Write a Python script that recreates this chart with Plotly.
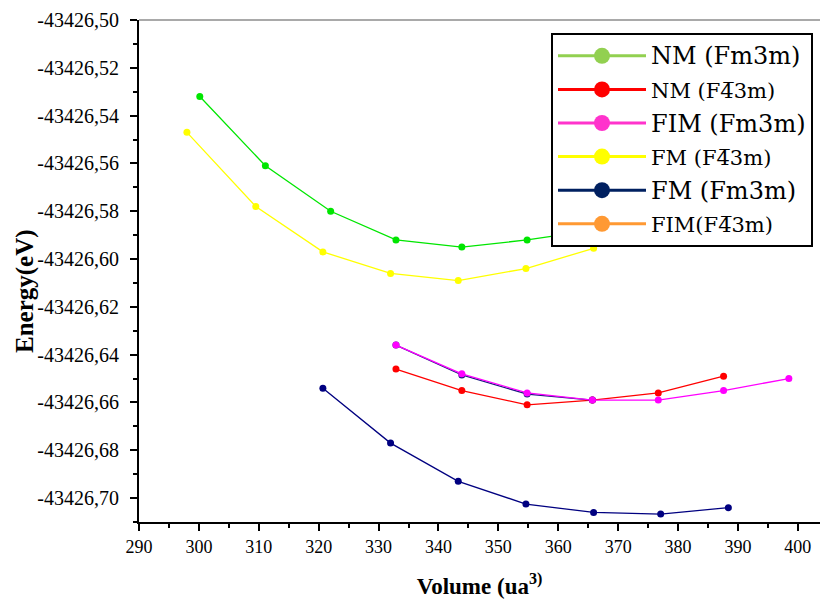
import plotly.graph_objects as go

# ---- data ----
nm_fm3m_x = [300.15, 311.1, 322.0, 332.9, 343.9, 354.8, 365.7]
nm_fm3m_y = [-43426.532, -43426.561, -43426.580, -43426.592, -43426.595, -43426.592, -43426.588]

fm_f43m_x = [298.0, 309.5, 320.7, 332.0, 343.3, 354.6, 365.9]
fm_f43m_y = [-43426.547, -43426.578, -43426.597, -43426.606, -43426.609, -43426.604, -43426.5955]

nm_f43m_x = [332.9, 343.9, 354.8, 365.7, 376.7, 387.6]
nm_f43m_y = [-43426.646, -43426.655, -43426.661, -43426.659, -43426.656, -43426.649]

fim_fm3m_x = [332.9, 343.9, 354.8, 365.7, 376.7, 387.6, 398.5]
fim_fm3m_y = [-43426.636, -43426.648, -43426.656, -43426.659, -43426.659, -43426.655, -43426.650]

# dark line partly hidden under the FIM (Fm3m) curve
under_x = [332.9, 343.9, 354.8, 365.7]
under_y = [-43426.636, -43426.6485, -43426.6565, -43426.659]

fm_fm3m_x = [320.7, 332.0, 343.3, 354.6, 365.9, 377.1, 388.4]
fm_fm3m_y = [-43426.654, -43426.677, -43426.693, -43426.7025, -43426.706, -43426.7067, -43426.704]

legend_names = ["NM (Fm3m)", "NM (F4\u03053m)", "FIM (Fm3m)", "FM (F4\u03053m)", "FM (Fm3m)", "FIM(F4\u03053m)"]
legend_sizes = [24, 21, 24, 21, 24, 21]
legend_colors = ["#92d050", "#ff0000", "#ff33cc", "#ffff00", "#002060", "#ff9933"]

y_ticks = [-43426.50, -43426.52, -43426.54, -43426.56, -43426.58, -43426.60,
           -43426.62, -43426.64, -43426.66, -43426.68, -43426.70]
y_ticktext = [f"{v:.2f}".replace(".", ",") for v in y_ticks]
x_ticks = list(range(290, 401, 10))

fig = go.Figure()

def data_trace(x, y, color):
    return go.Scatter(x=x, y=y, mode="lines+markers", showlegend=False,
                      line=dict(color=color, width=1.3),
                      marker=dict(color=color, size=7, line=dict(width=0)))

fig.add_trace(data_trace(nm_fm3m_x, nm_fm3m_y, "#00e600"))
fig.add_trace(data_trace(fm_f43m_x, fm_f43m_y, "#ffff00"))
fig.add_trace(data_trace(nm_f43m_x, nm_f43m_y, "#ff0000"))
fig.add_trace(data_trace(under_x, under_y, "#1a1a80"))
fig.add_trace(data_trace(fim_fm3m_x, fim_fm3m_y, "#ff00ff"))
fig.add_trace(data_trace(fm_fm3m_x, fm_fm3m_y, "#000080"))

# legend-only entries
for i, (name, size, col) in enumerate(zip(legend_names, legend_sizes, legend_colors)):
    fig.add_trace(go.Scatter(
        x=[None], y=[None], mode="lines+markers",
        name=f'<span style="font-size:{size}px">{name}</span>',
        legendgroup=f"g{i}",
        line=dict(color=col, width=3),
        marker=dict(color=col, size=16)))

fig.add_shape(type="line", xref="paper", yref="paper", x0=0, x1=1, y0=1, y1=1,
              line=dict(color="#555555", width=1.2))

fig.add_annotation(text="<b>Energy(eV)</b>", textangle=-90,
                   xref="paper", yref="paper",
                   x=(25 - 139) / 681, y=1 - (291 - 20) / 502,
                   xanchor="center", yanchor="middle", showarrow=False,
                   font=dict(family="Liberation Serif", size=25, color="black"))

fig.update_layout(
    width=820, height=605,
    margin=dict(l=139, r=0, t=20, b=83),
    paper_bgcolor="white", plot_bgcolor="white",
    font=dict(family="Liberation Serif", color="black", size=18),
    xaxis=dict(
        range=[290, 403.7], tickvals=x_ticks, ticktext=[str(v) for v in x_ticks],
        showgrid=False, zeroline=False,
        showline=True, linecolor="black", linewidth=2,
        ticks="outside", ticklen=7, tickwidth=2, tickcolor="black",
        minor=dict(dtick=5, ticks="outside", ticklen=4, tickwidth=2, tickcolor="black", showgrid=False),
        tickfont=dict(family="Liberation Serif", size=18),
        title=dict(text="<b>Volume (ua<sup>3)</sup></b>",
                   font=dict(family="Liberation Serif", size=23), standoff=22),
    ),
    yaxis=dict(
        range=[-43426.71, -43426.50], tickvals=y_ticks, ticktext=y_ticktext,
        showgrid=False, zeroline=False,
        showline=True, linecolor="black", linewidth=2,
        ticks="outside", ticklen=7, tickwidth=2, tickcolor="black",
        ticklabelstandoff=7,
        minor=dict(dtick=0.01, tick0=-43426.50, ticks="outside", ticklen=4, tickwidth=2, tickcolor="black", showgrid=False),
        tickfont=dict(family="Liberation Serif", size=20),
    ),
    legend=dict(
        x=(551 - 139) / 681, y=1 - (33 - 20) / 502, xanchor="left", yanchor="top",
        bgcolor="white", bordercolor="black", borderwidth=2,
        font=dict(family="DejaVu Serif", size=22, color="black"),
        itemwidth=88, valign="middle", tracegroupgap=2,
    ),
)

fig.write_html("out.html")
